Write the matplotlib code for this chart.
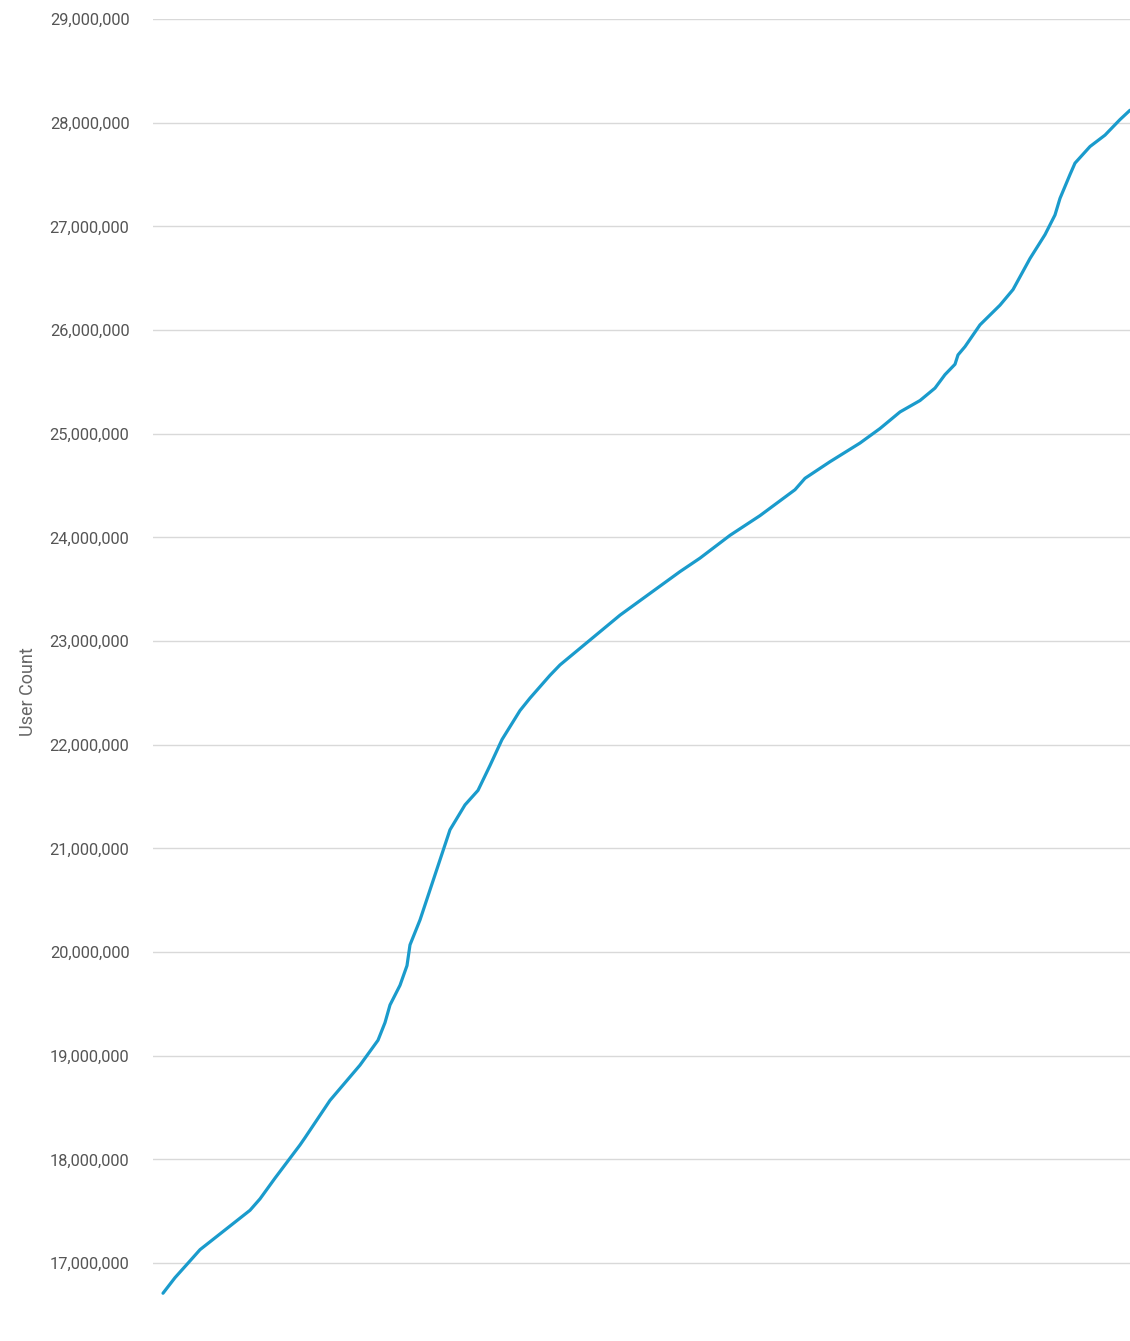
import matplotlib.pyplot as plt
from matplotlib.ticker import FuncFormatter, MultipleLocator

days = [0, 12, 25, 37, 62, 87, 97, 112, 137, 142, 167, 197, 215, 222, 227, 237,
        244, 247, 257, 267, 277, 287, 302, 315, 327, 339, 357, 367, 377, 387,
        397, 417, 437, 457, 487, 517, 537, 567, 597, 632, 642, 667, 697, 717,
        737, 757, 772, 782, 792, 795, 802, 817, 837, 850, 867, 882, 892, 897,
        907, 912, 927, 942, 957, 967]
users_m = [16.71, 16.86, 17.00, 17.13, 17.32, 17.51, 17.62, 17.82, 18.14,
           18.21, 18.57, 18.91, 19.15, 19.32, 19.49, 19.68, 19.87, 20.07,
           20.31, 20.60, 20.89, 21.18, 21.42, 21.56, 21.80, 22.05, 22.33,
           22.45, 22.56, 22.67, 22.77, 22.93, 23.09, 23.25, 23.46, 23.67,
           23.80, 24.02, 24.21, 24.46, 24.57, 24.73, 24.91, 25.05, 25.21,
           25.32, 25.44, 25.57, 25.67, 25.76, 25.84, 26.05, 26.24, 26.39,
           26.69, 26.92, 27.11, 27.27, 27.50, 27.61, 27.77, 27.88, 28.03, 28.12]

users = [u * 1e6 for u in users_m]

plt.rcParams['font.family'] = ['Roboto', 'DejaVu Sans']

fig = plt.figure(figsize=(11.30, 13.41), dpi=100)
ax = fig.add_axes([153 / 1130, 1 - 1315 / 1341, 1 - 153 / 1130, (1315 - 19) / 1341])

ax.plot(days, users, color='#1a9bcc', linewidth=2.3, solid_capstyle='round')

ax.set_ylim(16.5e6, 29e6)
ax.set_xlim(-10, 967)
ax.yaxis.set_major_locator(MultipleLocator(1e6))
ax.yaxis.set_major_formatter(FuncFormatter(lambda v, p: f'{int(v):,}' if v >= 17e6 else ''))
ax.grid(axis='y', color='#d9d9d9', linewidth=1)
ax.set_axisbelow(True)
ax.set_xticks([])
ax.tick_params(axis='y', length=0, pad=17, labelsize=11.8, labelcolor='#555555')
for s in ax.spines.values():
    s.set_visible(False)

ax.set_ylabel('User Count', fontsize=13, color='#666666')
ax.yaxis.set_label_coords(-0.119, 0.481)

fig.savefig('out.png', dpi=100)
